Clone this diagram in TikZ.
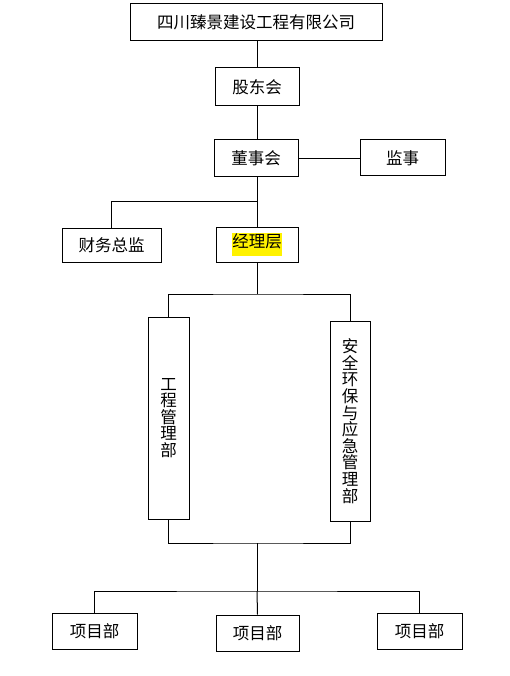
\documentclass[tikz,border=0pt]{standalone}
\usepackage{fontspec}
\newfontfamily\cjk{Noto Sans CJK SC}
\begin{document}
\begin{tikzpicture}[x=1pt,y=-1pt,
  box/.style={draw=black,line width=1pt,inner sep=0pt,font=\cjk\fontsize{16.5}{16.6}\selectfont,align=center},
  conn/.style={draw=black,line width=1pt,line join=miter}]
\useasboundingbox (0,0) rectangle (510,676);
\node[box,minimum width=252,minimum height=37] (top) at (256,22.5) {四川臻景建设工程有限公司};
\node[box,minimum width=84,minimum height=38] (gdh) at (257,87) {股东会};
\node[box,minimum width=84,minimum height=37] (dsh) at (256,158.5) {董事会};
\node[box,minimum width=85,minimum height=36] (js) at (402.5,158) {监事};
\node[box,minimum width=99,minimum height=34] (cw) at (111.5,245) {财务总监};
\node[box,minimum width=82,minimum height=35] (jl) at (257,244.5) {\colorbox{yellow}{\hspace{-2.5pt}\raisebox{0pt}[11.5pt][5pt]{经理层}\hspace{-2.5pt}}};
\node[box,minimum width=41,minimum height=202] (gc) at (168.5,418) {工\\程\\管\\理\\部};
\node[box,minimum width=40,minimum height=200] (aq) at (350,421) {安\\全\\环\\保\\与\\应\\急\\管\\理\\部};
\node[box,minimum width=85,minimum height=36] (p1) at (94.5,631) {项目部};
\node[box,minimum width=83,minimum height=36] (p2) at (257.5,633) {项目部};
\node[box,minimum width=85,minimum height=36] (p3) at (419.5,631) {项目部};
\coordinate (j1) at (257,202);
\coordinate (j2) at (257,294);
\coordinate (j3) at (257,543);
\coordinate (j4) at (257,591);
\draw[conn] (top.south -| gdh.north) -- (gdh.north);
\draw[conn] (gdh.south) -- (gdh.south |- dsh.north);
\draw[conn] (dsh.east) -- (js.west |- dsh.east);
\draw[conn] (dsh.south -| j1) -- (jl.north -| j1);
\draw[conn] (j1) -| (cw.north);
\draw[conn] (jl.south) -- (j2);
\draw[conn] (gc.north) |- (j2) -| (aq.north);
\draw[conn] (gc.south) |- (j3) -| (aq.south);
\draw[conn] (j3) -- (j4);
\draw[conn] (p1.north) |- (j4) -| (p3.north);
\draw[conn] (j4) -- (p2.north);
\end{tikzpicture}
\end{document}
